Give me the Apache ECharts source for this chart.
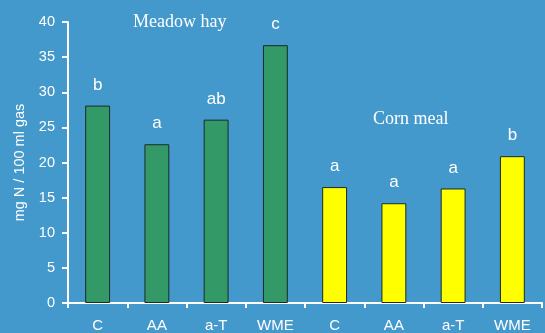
<!DOCTYPE html>
<html>
<head>
<meta charset="utf-8">
<script src="https://cdn.jsdelivr.net/npm/echarts@6/dist/echarts.min.js"></script>
<style>
  html, body { margin: 0; padding: 0; background: #4499cc; }
  #chart { width: 545px; height: 333px; }
</style>
</head>
<body>
<div id="chart"></div>
<script>
// Treatments per feed and measured nitrogen (mg N / 100 ml gas)
const categories = ['C', 'AA', 'a-T', 'WME', 'C', 'AA', 'a-T', 'WME'];
const meadowHay = [28.1, 22.6, 26.1, 36.7];
const cornMeal = [16.5, 14.2, 16.3, 20.9];
const meadowLetters = ['b', 'a', 'ab', 'c'];
const cornLetters = ['a', 'a', 'a', 'b'];
const yTicks = [0, 5, 10, 15, 20, 25, 30, 35, 40];

const GREEN = '#339966';
const YELLOW = '#ffff00';
const WHITE = '#ffffff';
const SANS = '"Liberation Sans", Arial, sans-serif';

const barData = [];
meadowHay.forEach((v, i) => barData.push({ value: v, letter: meadowLetters[i], itemStyle: { color: GREEN } }));
cornMeal.forEach((v, i) => barData.push({ value: v, letter: cornLetters[i], itemStyle: { color: YELLOW } }));

const chart = echarts.init(document.getElementById('chart'), null, { renderer: 'canvas' });
chart.setOption({
  backgroundColor: '#4499cc',
  animation: false,
  grid: { left: 68, right: 3, top: 22, bottom: 29 },
  xAxis: {
    type: 'category',
    data: categories,
    axisLine: { lineStyle: { color: WHITE, width: 2 } },
    axisTick: { show: true, length: 5, lineStyle: { color: WHITE, width: 2 } },
    axisLabel: { color: WHITE, fontFamily: SANS, fontSize: 15, margin: 15 }
  },
  yAxis: {
    type: 'value',
    min: yTicks[0],
    max: yTicks[yTicks.length - 1],
    interval: yTicks[1] - yTicks[0],
    name: 'mg N / 100 ml gas',
    nameLocation: 'middle',
    nameGap: 36,
    nameTextStyle: { color: WHITE, fontFamily: SANS, fontSize: 14.5 },
    axisLine: { show: true, lineStyle: { color: WHITE, width: 2 } },
    axisTick: { show: true, length: 6, lineStyle: { color: WHITE, width: 2 } },
    axisLabel: { color: WHITE, fontFamily: SANS, fontSize: 14.5, margin: 13 },
    splitLine: { show: false }
  },
  series: [{
    type: 'bar',
    data: barData,
    barWidth: '42%',
    itemStyle: { borderColor: '#1a2a2a', borderWidth: 1 },
    label: {
      show: true,
      position: 'top',
      distance: 12,
      color: WHITE,
      fontFamily: SANS,
      fontSize: 17,
      formatter: p => p.data.letter
    }
  }],
  graphic: [
    {
      type: 'text',
      left: 133, top: 13,
      style: { text: 'Meadow hay', fill: WHITE, font: '18px "Liberation Serif", "Times New Roman", serif' }
    },
    {
      type: 'text',
      left: 373, top: 110,
      style: { text: 'Corn meal', fill: WHITE, font: '18px "Liberation Serif", "Times New Roman", serif' }
    }
  ]
});
</script>
</body>
</html>
